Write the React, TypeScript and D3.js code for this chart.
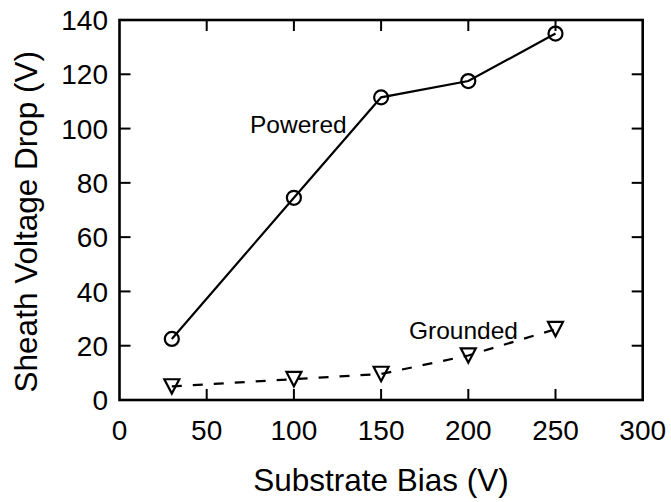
import React from "react";
import * as d3 from "d3";

const biasValues = [30, 100, 150, 200, 250];
const poweredValues = [22.5, 74.5, 111.5, 117.5, 135];
const groundedValues = [5, 7.7, 9.6, 16.4, 26.1];
const xTicks = [0, 50, 100, 150, 200, 250, 300];
const yTicks = [0, 20, 40, 60, 80, 100, 120, 140];

const W = 671;
const H = 502;
const left = 119.5;
const right = 642.7;
const top = 20;
const bottom = 400;
const FONT = "Liberation Sans, Arial, Helvetica, sans-serif";

export default function App() {
  const x = d3.scaleLinear().domain([0, 300]).range([left, right]);
  const y = d3.scaleLinear().domain([0, 140]).range([bottom, top]);
  const line = d3
    .line<number>()
    .x((_, i) => x(biasValues[i]))
    .y((d) => y(d));
  const tickLen = 11;
  const tri = (cx: number, cy: number) => {
    const w = 7.5;
    const h = 7.2;
    return `M${cx - w},${cy - h}L${cx + w},${cy - h}L${cx},${cy + h}Z`;
  };
  return (
    <svg
      width={W}
      height={H}
      style={{ position: "absolute", left: 0, top: 0, background: "#fff" }}
      fontFamily={FONT}
    >
      <rect x={0} y={0} width={W} height={H} fill="#fff" />
      {/* ticks */}
      {xTicks.slice(1, -1).map((t) => (
        <g key={"xt" + t} stroke="#000" strokeWidth={2}>
          <line x1={x(t)} x2={x(t)} y1={bottom} y2={bottom - tickLen} />
          <line x1={x(t)} x2={x(t)} y1={top} y2={top + tickLen} />
        </g>
      ))}
      {yTicks.slice(1, -1).map((t) => (
        <g key={"yt" + t} stroke="#000" strokeWidth={2}>
          <line x1={left} x2={left + tickLen} y1={y(t)} y2={y(t)} />
          <line x1={right} x2={right - tickLen} y1={y(t)} y2={y(t)} />
        </g>
      ))}
      <rect
        x={left}
        y={top}
        width={right - left}
        height={bottom - top}
        fill="none"
        stroke="#000"
        strokeWidth={2.6}
      />
      {/* tick labels */}
      {xTicks.map((t) => (
        <text key={"xl" + t} x={x(t)} y={440} fontSize={28} textAnchor="middle" fill="#000">
          {t}
        </text>
      ))}
      {yTicks.map((t) => (
        <text
          key={"yl" + t}
          x={108}
          y={y(t)}
          dy="0.36em"
          fontSize={28}
          textAnchor="end"
          fill="#000"
        >
          {t}
        </text>
      ))}
      {/* titles */}
      <text x={381} y={491} fontSize={31.5} textAnchor="middle" fill="#000">
        Substrate Bias (V)
      </text>
      <text
        transform={`translate(37,221.7) rotate(-90)`}
        fontSize={31.5}
        textAnchor="middle"
        fill="#000"
      >
        Sheath Voltage Drop (V)
      </text>
      {/* series */}
      <path d={line(poweredValues) || ""} fill="none" stroke="#000" strokeWidth={2.2} />
      <path
        d={line(groundedValues) || ""}
        fill="none"
        stroke="#000"
        strokeWidth={2.2}
        strokeDasharray="10,11"
      />
      {poweredValues.map((v, i) => (
        <circle
          key={"pc" + i}
          cx={x(biasValues[i])}
          cy={y(v)}
          r={7}
          fill="none"
          stroke="#000"
          strokeWidth={2.2}
        />
      ))}
      {groundedValues.map((v, i) => (
        <path
          key={"gt" + i}
          d={tri(x(biasValues[i]), y(v))}
          fill="none"
          stroke="#000"
          strokeWidth={2.2}
          strokeLinejoin="miter"
        />
      ))}
      <text x={250} y={133.3} fontSize={24.5} fill="#000">
        Powered
      </text>
      <text x={409} y={339.3} fontSize={24.5} fill="#000">
        Grounded
      </text>
    </svg>
  );
}
